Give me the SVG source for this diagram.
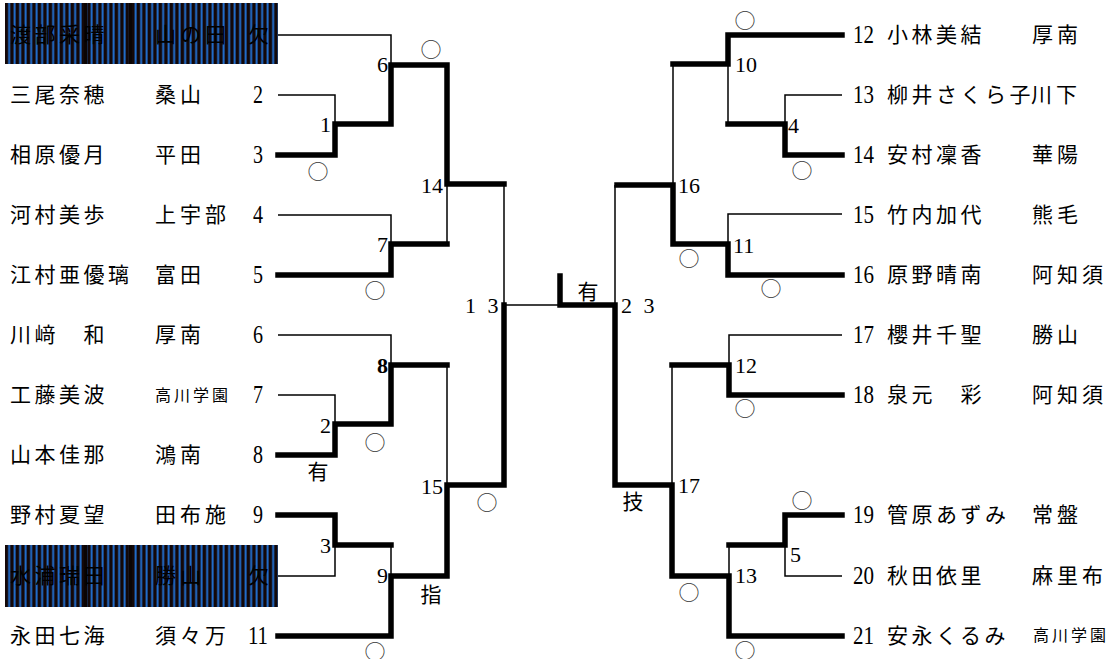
<svg xmlns="http://www.w3.org/2000/svg" width="1113" height="659" viewBox="0 0 1113 659">
<defs>
<pattern id="stripe" patternUnits="userSpaceOnUse" x="5" y="0" width="5.5" height="10">
<rect x="0" y="0" width="5.5" height="10" fill="#140808"/>
<rect x="3.2" y="0" width="1.9" height="10" fill="#2272d6"/>
</pattern>
<style>
.bg{fill:url(#stripe)}
.thin{fill:none;stroke:#000;stroke-width:1.5}
.thick{fill:none;stroke:#000;stroke-width:5.5;stroke-linejoin:miter;stroke-linecap:square}
.nm{font-family:"Noto Sans CJK JP",sans-serif;font-size:21px;letter-spacing:3.5px;fill:#000}
.sc{font-family:"Noto Sans CJK JP",sans-serif;font-size:21px;letter-spacing:4px;fill:#000}
.sm{font-family:"Noto Sans CJK JP",sans-serif;font-size:16px;letter-spacing:3px;fill:#000}
.no{font-family:"Liberation Serif",serif;font-size:26px;fill:#000}
.lb{font-family:"Liberation Serif",serif;font-size:22px;fill:#000}
.mk{font-family:"Noto Sans CJK JP",sans-serif;font-size:21px;fill:#000;text-anchor:middle}
.ck{font-family:"Noto Sans CJK JP",sans-serif;font-size:21px;fill:#333;text-anchor:middle}
</style>
</defs>
<rect width="1113" height="659" fill="#fff"/>

<g id="connectors">
<path class="thin" d="M278,35 H391 V65"/>
<path class="thin" d="M278,95 H335 V124"/>
<path class="thin" d="M504,184 V305"/>
<path class="thin" d="M278,215 H391 V244"/>
<path class="thin" d="M447,244 V184"/>
<path class="thin" d="M278,335 H391 V365"/>
<path class="thin" d="M278,395 H335 V424"/>
<path class="thin" d="M447,365 V485"/>
<path class="thin" d="M278,576 H335 V545"/>
<path class="thin" d="M391,545 V576"/>
<path class="thin" d="M504,305 H560"/>
<path class="thick" d="M278,155 H335 V124 H391 V65 H447 V184 H504"/>
<path class="thick" d="M278,275 H391 V244 H447"/>
<path class="thick" d="M278,455 H335 V424 H391 V365 H447"/>
<path class="thick" d="M278,515 H335 V545 H391"/>
<path class="thick" d="M278,636 H391 V576 H447 V485 H504 V305"/>
<path class="thick" d="M560,276 V305 H615 V485 H672 V576 H729 V636 H842"/>
<path class="thin" d="M615,305 V185"/>
<path class="thin" d="M673,64 V185"/>
<path class="thin" d="M728,64 V124"/>
<path class="thin" d="M842,95 H785 V124"/>
<path class="thin" d="M842,214 H728 V244"/>
<path class="thin" d="M842,335 H729 V365"/>
<path class="thin" d="M672,365 V485"/>
<path class="thin" d="M729,545 V576"/>
<path class="thin" d="M842,576 H785 V545"/>
<path class="thick" d="M842,35 H728 V64 H673"/>
<path class="thick" d="M842,155 H785 V124 H728"/>
<path class="thick" d="M617,185 H673 V244 H728 V275 H842"/>
<path class="thick" d="M842,395 H729 V365 H672"/>
<path class="thick" d="M842,515 H785 V545 H729"/>
</g>

<g id="labels">
<text class="lb" x="388" y="72" text-anchor="end">6</text>
<text class="lb" x="331" y="132" text-anchor="end">1</text>
<text class="lb" x="443" y="193" text-anchor="end">14</text>
<text class="lb" x="388" y="252" text-anchor="end">7</text>
<text class="lb" x="388" y="373" text-anchor="end" font-weight="bold">8</text>
<text class="lb" x="331" y="433" text-anchor="end">2</text>
<text class="lb" x="443" y="494" text-anchor="end">15</text>
<text class="lb" x="331" y="553" text-anchor="end">3</text>
<text class="lb" x="388" y="583" text-anchor="end">9</text>
<text class="lb" x="465" y="313" letter-spacing="3">1 3</text>
<text class="lb" x="621" y="313" letter-spacing="3">2 3</text>
<text class="lb" x="735" y="72">10</text>
<text class="lb" x="788" y="133">4</text>
<text class="lb" x="678" y="193">16</text>
<text class="lb" x="733" y="253">11</text>
<text class="lb" x="735" y="373">12</text>
<text class="lb" x="678" y="493">17</text>
<text class="lb" x="790" y="562">5</text>
<text class="lb" x="735" y="583">13</text>
<text class="mk" x="588" y="299">有</text>
<text class="mk" x="318" y="479">有</text>
<text class="mk" x="431" y="602">指</text>
<text class="mk" x="633" y="509">技</text>
<text class="ck" x="431" y="57">○</text>
<text class="ck" x="318" y="179">○</text>
<text class="ck" x="375" y="298">○</text>
<text class="ck" x="375" y="450">○</text>
<text class="ck" x="487" y="510">○</text>
<text class="ck" x="375" y="659">○</text>
<text class="ck" x="745" y="28">○</text>
<text class="ck" x="802" y="178">○</text>
<text class="ck" x="689" y="266">○</text>
<text class="ck" x="771" y="296">○</text>
<text class="ck" x="745" y="416">○</text>
<text class="ck" x="802" y="508">○</text>
<text class="ck" x="689" y="600">○</text>
<text class="ck" x="745" y="658">○</text>
</g>

<g id="p1"><rect class="bg" x="5" y="3" width="273" height="61"/><rect x="84" y="3" width="3" height="61" fill="#0a0404"/><rect x="129" y="3" width="3" height="61" fill="#0a0404"/>
<text class="nm" x="10" y="42" fill="#0a0505">渡部采晴</text><text class="sc" x="155" y="42">山の田</text><text class="nm" x="248" y="42">欠</text></g>
<g id="p2"><text class="nm" x="10" y="102">三尾奈穂</text><text class="sc" x="155" y="102">桑山</text><text class="no" x="253" y="103" textLength="10" lengthAdjust="spacingAndGlyphs">2</text></g>
<g id="p3"><text class="nm" x="10" y="162">相原優月</text><text class="sc" x="155" y="162">平田</text><text class="no" x="253" y="163" textLength="10" lengthAdjust="spacingAndGlyphs">3</text></g>
<g id="p4"><text class="nm" x="10" y="222">河村美歩</text><text class="sc" x="155" y="222">上宇部</text><text class="no" x="253" y="223" textLength="10" lengthAdjust="spacingAndGlyphs">4</text></g>
<g id="p5"><text class="nm" x="10" y="282">江村亜優璃</text><text class="sc" x="155" y="282">富田</text><text class="no" x="253" y="283" textLength="10" lengthAdjust="spacingAndGlyphs">5</text></g>
<g id="p6"><text class="nm" x="10" y="342">川﨑　和</text><text class="sc" x="155" y="342">厚南</text><text class="no" x="253" y="343" textLength="10" lengthAdjust="spacingAndGlyphs">6</text></g>
<g id="p7"><text class="nm" x="10" y="402">工藤美波</text><text class="sm" x="155" y="401">高川学園</text><text class="no" x="253" y="403" textLength="10" lengthAdjust="spacingAndGlyphs">7</text></g>
<g id="p8"><text class="nm" x="10" y="462">山本佳那</text><text class="sc" x="155" y="462">鴻南</text><text class="no" x="253" y="463" textLength="10" lengthAdjust="spacingAndGlyphs">8</text></g>
<g id="p9"><text class="nm" x="10" y="522">野村夏望</text><text class="sc" x="155" y="522">田布施</text><text class="no" x="253" y="523" textLength="10" lengthAdjust="spacingAndGlyphs">9</text></g>
<g id="p10"><rect class="bg" x="5" y="545" width="273" height="62"/><rect x="84" y="545" width="3" height="62" fill="#0a0404"/><rect x="129" y="545" width="3" height="62" fill="#0a0404"/>
<text class="nm" x="10" y="583">水浦瑞田</text><text class="sc" x="155" y="583">勝山</text><text class="nm" x="248" y="583">欠</text></g>
<g id="p11"><text class="nm" x="10" y="643">永田七海</text><text class="sc" x="155" y="643">須々万</text><text class="no" x="248" y="644" textLength="20" lengthAdjust="spacingAndGlyphs">11</text></g>

<g id="p12"><text class="no" x="853" y="43" textLength="21" lengthAdjust="spacingAndGlyphs">12</text><text class="nm" x="887" y="42">小林美結</text><text class="sc" x="1032" y="42">厚南</text></g>
<g id="p13"><text class="no" x="853" y="103" textLength="21" lengthAdjust="spacingAndGlyphs">13</text><text class="nm" x="887" y="102" font-size="20" letter-spacing="1.5">柳井さくら子</text><text class="sc" x="1031" y="102" letter-spacing="2">川下</text></g>
<g id="p14"><text class="no" x="853" y="163" textLength="21" lengthAdjust="spacingAndGlyphs">14</text><text class="nm" x="887" y="162">安村凜香</text><text class="sc" x="1032" y="162">華陽</text></g>
<g id="p15"><text class="no" x="853" y="223" textLength="21" lengthAdjust="spacingAndGlyphs">15</text><text class="nm" x="887" y="222">竹内加代</text><text class="sc" x="1032" y="222">熊毛</text></g>
<g id="p16"><text class="no" x="853" y="283" textLength="21" lengthAdjust="spacingAndGlyphs">16</text><text class="nm" x="887" y="282">原野晴南</text><text class="sc" x="1032" y="282">阿知須</text></g>
<g id="p17"><text class="no" x="853" y="343" textLength="21" lengthAdjust="spacingAndGlyphs">17</text><text class="nm" x="887" y="342">櫻井千聖</text><text class="sc" x="1032" y="342">勝山</text></g>
<g id="p18"><text class="no" x="853" y="403" textLength="21" lengthAdjust="spacingAndGlyphs">18</text><text class="nm" x="887" y="402">泉元　彩</text><text class="sc" x="1032" y="402">阿知須</text></g>
<g id="p19"><text class="no" x="853" y="523" textLength="21" lengthAdjust="spacingAndGlyphs">19</text><text class="nm" x="887" y="522" letter-spacing="2.5">管原あずみ</text><text class="sc" x="1032" y="522">常盤</text></g>
<g id="p20"><text class="no" x="853" y="584" textLength="21" lengthAdjust="spacingAndGlyphs">20</text><text class="nm" x="887" y="583">秋田依里</text><text class="sc" x="1032" y="583">麻里布</text></g>
<g id="p21"><text class="no" x="853" y="644" textLength="21" lengthAdjust="spacingAndGlyphs">21</text><text class="nm" x="887" y="643" letter-spacing="2.5">安永くるみ</text><text class="sm" x="1033" y="641">高川学園</text></g>
</svg>
